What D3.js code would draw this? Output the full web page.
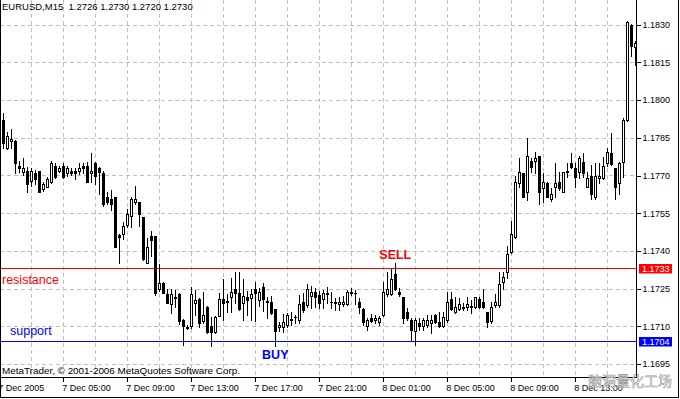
<!DOCTYPE html>
<html>
<head>
<meta charset="utf-8">
<script src="https://cdn.jsdelivr.net/npm/d3@7"></script>
<style>
  body { margin: 0; background: #fff; }
  svg { display: block; font-family: "Liberation Sans", Arial, sans-serif; }
</style>
</head>
<body>
<div id="wrapper"></div>
<script>
// EURUSD M15, 7-8 Dec 2005, bar index 1..159 (bar 0 = 7 Dec 01:00)
const opens = [
  1.17920,1.17808,1.17838,1.17837,1.17737,1.17715,1.17718,1.17678,1.17711,1.17718,
  1.17646,1.17655,1.17675,1.17737,1.17718,1.17737,1.17708,1.17718,1.17718,1.17718,
  1.17737,1.17737,1.17708,1.17748,1.17728,1.17711,1.17615,1.17605,1.17615,1.17463,
  1.17466,1.17505,1.17538,1.17595,1.17595,1.17536,1.17353,1.17459,1.17459,1.17247,
  1.17271,1.17228,1.17187,1.17218,1.17227,1.17125,1.17098,1.17100,1.17191,1.17207,
  1.17121,1.17175,1.17100,1.17079,1.17141,1.17207,1.17198,1.17215,1.17248,1.17231,
  1.17194,1.17215,1.17211,1.17247,1.17205,1.17255,1.17199,1.17198,1.17169,1.17096,
  1.17096,1.17105,1.17128,1.17136,1.17125,1.17198,1.17185,1.17220,1.17238,1.17224,
  1.17207,1.17231,1.17198,1.17195,1.17187,1.17189,1.17189,1.17235,1.17234,1.17198,
  1.17167,1.17102,1.17135,1.17125,1.17116,1.17145,1.17227,1.17227,1.17308,1.17238,
  1.17218,1.17158,1.17125,1.17081,1.17114,1.17102,1.17105,1.17112,1.17145,1.17116,
  1.17102,1.17125,1.17209,1.17156,1.17169,1.17175,1.17175,1.17178,1.17178,1.17209,
  1.17195,1.17156,1.17122,1.17185,1.17185,1.17275,1.17315,1.17394,1.17457,1.17669,
  1.17709,1.17636,1.17758,1.17758,1.17778,1.17649,1.17669,1.17605,1.17656,1.17675,
  1.17636,1.17715,1.17748,1.17729,1.17715,1.17755,1.17656,1.17698,1.17616,1.17689,
  1.17689,1.17748,1.17788,1.17729,1.17669,1.17755,1.17921,1.18299,1.18210
];
const highs = [
  1.17947,1.17874,1.17887,1.17840,1.17757,1.17768,1.17735,1.17731,1.17721,1.17718,
  1.17675,1.17695,1.17757,1.17748,1.17739,1.17748,1.17737,1.17728,1.17728,1.17748,
  1.17748,1.17755,1.17788,1.17755,1.17735,1.17718,1.17635,1.17642,1.17615,1.17469,
  1.17516,1.17565,1.17615,1.17658,1.17595,1.17536,1.17452,1.17479,1.17459,1.17346,
  1.17277,1.17247,1.17247,1.17244,1.17231,1.17130,1.17105,1.17257,1.17244,1.17211,
  1.17238,1.17180,1.17138,1.17140,1.17231,1.17287,1.17227,1.17291,1.17317,1.17317,
  1.17287,1.17240,1.17247,1.17278,1.17254,1.17274,1.17218,1.17220,1.17169,1.17116,
  1.17149,1.17151,1.17158,1.17145,1.17224,1.17231,1.17268,1.17260,1.17251,1.17240,
  1.17244,1.17258,1.17238,1.17214,1.17218,1.17220,1.17244,1.17251,1.17244,1.17211,
  1.17171,1.17135,1.17150,1.17145,1.17141,1.17277,1.17317,1.17326,1.17350,1.17254,
  1.17218,1.17171,1.17132,1.17135,1.17132,1.17135,1.17145,1.17145,1.17147,1.17158,
  1.17158,1.17238,1.17238,1.17218,1.17211,1.17191,1.17218,1.17205,1.17218,1.17218,
  1.17247,1.17158,1.17198,1.17229,1.17315,1.17315,1.17419,1.17519,1.17698,1.17768,
  1.17710,1.17848,1.17768,1.17795,1.17779,1.17709,1.17675,1.17649,1.17748,1.17715,
  1.17715,1.17748,1.17788,1.17751,1.17779,1.17788,1.17715,1.17742,1.17748,1.17748,
  1.17775,1.17811,1.17868,1.17729,1.17755,1.17927,1.18315,1.18302,1.18236
];
const lows = [
  1.17808,1.17804,1.17808,1.17708,1.17715,1.17702,1.17635,1.17658,1.17668,1.17635,
  1.17639,1.17653,1.17671,1.17692,1.17715,1.17692,1.17698,1.17702,1.17687,1.17706,
  1.17708,1.17675,1.17675,1.17668,1.17625,1.17578,1.17585,1.17562,1.17416,1.17353,
  1.17446,1.17496,1.17496,1.17585,1.17499,1.17363,1.17353,1.17379,1.17224,1.17240,
  1.17231,1.17191,1.17154,1.17178,1.17111,1.17025,1.17088,1.17092,1.17145,1.17096,
  1.17112,1.17075,1.17021,1.17075,1.17140,1.17125,1.17158,1.17158,1.17191,1.17165,
  1.17125,1.17145,1.17125,1.17121,1.17180,1.17160,1.17132,1.17149,1.17022,1.17083,
  1.17079,1.17096,1.17105,1.17114,1.17112,1.17158,1.17175,1.17171,1.17175,1.17171,
  1.17171,1.17191,1.17171,1.17165,1.17165,1.17182,1.17185,1.17224,1.17189,1.17154,
  1.17105,1.17085,1.17118,1.17112,1.17105,1.17141,1.17220,1.17224,1.17244,1.17220,
  1.17114,1.17125,1.17045,1.17025,1.17085,1.17085,1.17098,1.17075,1.17112,1.17098,
  1.17096,1.17118,1.17165,1.17152,1.17165,1.17165,1.17165,1.17154,1.17174,1.17171,
  1.17171,1.17096,1.17112,1.17175,1.17178,1.17247,1.17291,1.17390,1.17453,1.17656,
  1.17615,1.17603,1.17715,1.17709,1.17585,1.17596,1.17613,1.17600,1.17616,1.17642,
  1.17635,1.17695,1.17729,1.17656,1.17689,1.17695,1.17653,1.17605,1.17605,1.17669,
  1.17685,1.17738,1.17742,1.17605,1.17625,1.17695,1.17915,1.18177,1.18140
];
const closes = [
  1.17828,1.17857,1.17847,1.17748,1.17728,1.17728,1.17668,1.17718,1.17687,1.17635,
  1.17668,1.17686,1.17748,1.17695,1.17728,1.17695,1.17728,1.17708,1.17711,1.17728,
  1.17728,1.17675,1.17718,1.17698,1.17715,1.17585,1.17595,1.17585,1.17416,1.17456,
  1.17499,1.17545,1.17605,1.17605,1.17545,1.17366,1.17416,1.17443,1.17233,1.17273,
  1.17233,1.17191,1.17227,1.17214,1.17121,1.17100,1.17095,1.17227,1.17204,1.17114,
  1.17145,1.17078,1.17078,1.17136,1.17207,1.17194,1.17200,1.17235,1.17234,1.17168,
  1.17220,1.17205,1.17227,1.17234,1.17238,1.17207,1.17197,1.17154,1.17083,1.17105,
  1.17118,1.17145,1.17125,1.17136,1.17189,1.17165,1.17247,1.17238,1.17215,1.17194,
  1.17234,1.17230,1.17197,1.17194,1.17198,1.17198,1.17238,1.17234,1.17233,1.17175,
  1.17118,1.17125,1.17122,1.17135,1.17135,1.17238,1.17247,1.17288,1.17247,1.17227,
  1.17135,1.17132,1.17085,1.17125,1.17102,1.17125,1.17125,1.17125,1.17116,1.17102,
  1.17136,1.17195,1.17169,1.17178,1.17187,1.17171,1.17187,1.17179,1.17215,1.17175,
  1.17175,1.17116,1.17175,1.17195,1.17267,1.17295,1.17386,1.17466,1.17675,1.17715,
  1.17616,1.17778,1.17735,1.17768,1.17636,1.17675,1.17616,1.17625,1.17669,1.17649,
  1.17713,1.17716,1.17735,1.17695,1.17768,1.17709,1.17689,1.17625,1.17698,1.17698,
  1.17738,1.17795,1.17746,1.17656,1.17748,1.17921,1.18310,1.18217,1.18229
];

const priceTicks = [1.1695, 1.1710, 1.1725, 1.1740, 1.1755, 1.1770, 1.1785, 1.1800, 1.1815, 1.1830];
const timeTickBars = [0, 16, 32, 48, 64, 80, 96, 112, 128, 144];
const timeTickLabels = ["7 Dec 2005", "7 Dec 05:00", "7 Dec 09:00", "7 Dec 13:00", "7 Dec 17:00",
  "7 Dec 21:00", "8 Dec 01:00", "8 Dec 05:00", "8 Dec 09:00", "8 Dec 13:00"];

const levels = [
  { name: "resistance", price: 1.1733, color: "#ff0000" },
  { name: "support", price: 1.1704, color: "#0000ff" },
];
const signals = [
  { name: "SELL", bar: 99, color: "#ff0000" },
  { name: "BUY", bar: 69, color: "#0000ff" },
];

const headerText = "EURUSD,M15  1.2726 1.2730 1.2720 1.2730";
const copyrightText = "MetaTrader, \u00a9 2001-2006 MetaQuotes Software Corp.";

const bars = opens.map((o, k) => ({
  i: k + 1, open: o, high: highs[k], low: lows[k], close: closes[k],
}));

// dimensions
const width = 680;
const height = 399;
const plot = { left: 0, right: 636, top: 0, bottom: 377 };

const svg = d3.select("#wrapper").append("svg")
    .attr("width", width)
    .attr("height", height);

const xScale = d3.scaleLinear()
  .domain([0, 159])
  .range([-0.7, 635.3]);

const yScale = d3.scaleLinear()
  .domain([1.1695, 1.1830])
  .range([364, 24.7]);

const px = i => Math.round(xScale(i));
const py = v => Math.round(yScale(v));

// grid
const grid = svg.append("g")
    .attr("stroke", "#c0c0c0")
    .attr("stroke-dasharray", "4,3")
    .attr("shape-rendering", "crispEdges");

grid.selectAll(".vgrid")
  .data(d3.range(8, 159, 8))
  .join("line")
    .attr("x1", d => px(d) + 0.5)
    .attr("x2", d => px(d) + 0.5)
    .attr("y1", plot.top)
    .attr("y2", plot.bottom);

grid.selectAll(".hgrid")
  .data(priceTicks)
  .join("line")
    .attr("x1", plot.left)
    .attr("x2", plot.right)
    .attr("y1", d => py(d) + 0.5)
    .attr("y2", d => py(d) + 0.5);

// level lines
svg.selectAll(".level")
  .data(levels)
  .join("line")
    .attr("x1", plot.left)
    .attr("x2", plot.right)
    .attr("y1", d => py(d.price) + 0.5)
    .attr("y2", d => py(d.price) + 0.5)
    .attr("stroke", d => d.color)
    .attr("shape-rendering", "crispEdges");

// candles
const candles = svg.append("g")
    .attr("shape-rendering", "crispEdges")
  .selectAll("g")
  .data(bars)
  .join("g");

candles.append("rect")
    .attr("x", d => px(d.i))
    .attr("y", d => py(d.high))
    .attr("width", 1)
    .attr("height", d => py(d.low) - py(d.high) + 1)
    .attr("fill", "#000");

candles.append("rect")
    .attr("x", d => px(d.i) - 1)
    .attr("y", d => py(Math.max(d.open, d.close)))
    .attr("width", 3)
    .attr("height", d => py(Math.min(d.open, d.close)) - py(Math.max(d.open, d.close)) + 1)
    .attr("fill", "#000");

candles.filter(d => d.close > d.open)
  .append("rect")
    .attr("x", d => px(d.i))
    .attr("y", d => py(d.close) + 1)
    .attr("width", 1)
    .attr("height", d => Math.max(0, py(d.open) - py(d.close) - 1))
    .attr("fill", "#fff");

// level labels
const levelLabels = svg.selectAll(".level-label")
  .data(levels)
  .join("text")
    .attr("x", d => d.name === "resistance" ? 2 : 10)
    .attr("y", d => d.name === "resistance" ? py(d.price) + 16 : py(d.price) - 6)
    .attr("fill", d => d.color)
    .style("font-size", "12.5px")
    .text(d => d.name);

svg.selectAll(".signal")
  .data(signals)
  .join("text")
    .attr("x", d => xScale(d.bar))
    .attr("y", d => d.name === "SELL" ? 258.7 : 359)
    .attr("text-anchor", "middle")
    .attr("fill", d => d.color)
    .style("font-size", "12.5px")
    .style("font-weight", "bold")
    .text(d => d.name);

// axes and frame
const frame = svg.append("g")
    .attr("stroke", "#000")
    .attr("shape-rendering", "crispEdges");
frame.append("line").attr("x1", 0.5).attr("x2", 0.5).attr("y1", 0).attr("y2", 398);
frame.append("line").attr("x1", plot.right + 0.5).attr("x2", plot.right + 0.5).attr("y1", 0).attr("y2", plot.bottom + 1);
frame.append("line").attr("x1", 0).attr("x2", plot.right + 1).attr("y1", plot.bottom + 0.5).attr("y2", plot.bottom + 0.5);
frame.append("line").attr("x1", 678.5).attr("x2", 678.5).attr("y1", 0).attr("y2", 398);
frame.append("line").attr("x1", 0).attr("x2", 679).attr("y1", 397.5).attr("y2", 397.5);

const yAxis = svg.append("g")
    .attr("transform", `translate(${plot.right + 0.5},0)`)
  .call(d3.axisRight(yScale)
    .tickValues(priceTicks)
    .tickFormat(d3.format(".4f"))
    .tickSize(4)
    .tickPadding(2));
yAxis.select(".domain").remove();
yAxis.selectAll(".tick line").attr("shape-rendering", "crispEdges");
yAxis.selectAll("text")
    .attr("dy", "0.32em")
    .style("font-family", "'Liberation Sans', Arial, sans-serif")
    .style("font-size", "9px")
    .attr("fill", "#000");

const xAxis = svg.append("g")
    .attr("transform", `translate(0,${plot.bottom + 0.5})`)
  .call(d3.axisBottom(xScale)
    .tickValues(timeTickBars)
    .tickFormat((d, k) => timeTickLabels[k])
    .tickSize(4));
xAxis.select(".domain").remove();
xAxis.selectAll(".tick line").attr("shape-rendering", "crispEdges");
xAxis.selectAll("text")
    .attr("text-anchor", "start")
    .attr("x", -1.5)
    .attr("y", 13)
    .attr("dy", 0)
    .style("font-family", "'Liberation Sans', Arial, sans-serif")
    .style("font-size", "9px")
    .attr("fill", "#000");

// current level price boxes
const boxes = svg.selectAll(".pbox")
  .data(levels)
  .join("g")
    .attr("transform", d => `translate(639,${py(d.price) + 0.5})`);
boxes.append("rect")
    .attr("x", 0)
    .attr("y", -4.5)
    .attr("width", 33)
    .attr("height", 9.5)
    .attr("fill", d => d.color);
boxes.append("text")
    .attr("x", 3)
    .attr("y", 3.5)
    .attr("fill", "#fff")
    .style("font-size", "9px")
    .text(d => d3.format(".4f")(d.price));

// header and copyright
svg.append("text")
    .attr("x", 2)
    .attr("y", 10)
    .attr("xml:space", "preserve")
    .style("font-size", "9.5px")
    .style("white-space", "pre")
    .text(headerText);

svg.append("text")
    .attr("x", 2)
    .attr("y", 373.5)
    .style("font-size", "9.9px")
    .text(copyrightText);

// watermark
svg.append("text")
    .attr("x", 588)
    .attr("y", 386)
    .attr("fill", "#f4f4f4")
    .attr("stroke", "#a0a0a0")
    .attr("stroke-width", 0.6)
    .style("font-family", "'Noto Sans CJK SC', sans-serif")
    .style("font-size", "14px")
    .text("脑洞量化工场");
</script>
</body>
</html>
